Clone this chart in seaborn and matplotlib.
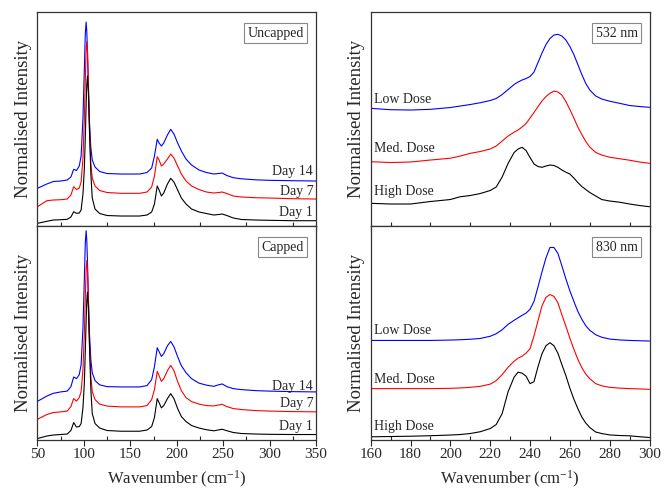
import matplotlib
matplotlib.use('Agg')
import matplotlib.pyplot as plt
import seaborn as sns
from matplotlib.ticker import MultipleLocator

# Raman spectra (arbitrary normalised units)
wn_left = [50, 60, 67, 75, 82, 86, 89, 92, 95, 97, 99, 100.5, 101.5, 102.4, 103.1, 103.8,
           104.8, 106, 107.5, 109, 112, 117, 125, 140, 160, 168, 173, 176, 179, 181, 183.5,
           186, 190, 193.5, 197, 201, 205, 210, 216, 224, 232, 240, 245, 249, 254, 261, 270,
           285, 300, 325, 350]

uncapped_day1 = [2.7, 4.7, 6, 6.3, 6.7, 9, 14.3, 12.7, 13, 16, 32, 58, 88, 121, 141, 150,
                 135, 95, 52, 28, 17, 12.5, 10.5, 10, 10, 11, 14, 22, 40, 36, 30,
                 33, 42, 47.7, 44, 36, 28, 22, 17, 14, 12.5, 11, 11.5, 12, 10.5, 8, 6.5,
                 6, 5.7, 5.3, 5.3]
uncapped_day7 = [19.3, 25.3, 26, 26.3, 27, 31, 39.3, 36.5, 38, 44, 68, 108, 146, 175, 184.3, 176,
                 145, 100, 62, 48, 40, 35.5, 33.5, 32.7, 32.7, 34, 39, 50, 69.3, 66, 60,
                 62, 67, 72, 68, 60, 52, 45, 40, 36.5, 34, 33, 33.5, 34, 32.5, 30, 29,
                 28.3, 28, 27.3, 27]
uncapped_day14 = [37.7, 42, 44.5, 45, 46, 49, 56.7, 55.5, 60, 70, 108, 158, 192, 204, 195, 176,
                  140, 104, 78, 66, 59, 54.5, 52.5, 52, 52, 53.5, 58, 70, 86.7, 83, 80,
                  83, 91, 96.7, 92, 83, 75, 67, 61, 56, 53.5, 52, 52.5, 53, 50.5, 48.3, 47.2,
                  46.2, 45.7, 45.3, 45]

capped_day1 = [1, 3.5, 4.5, 5, 5.5, 9, 17, 12.5, 13, 16, 32, 57, 88, 119, 139, 147.7,
               132, 94, 50, 26, 16, 11.5, 9, 8.3, 8.3, 9.5, 13, 22, 41, 37, 31.7,
               34, 41, 46, 41, 31, 23, 18, 14, 11.5, 9.8, 8.7, 9.6, 10.3, 8.8, 7, 6,
               5.5, 5.2, 5, 5]
capped_day7 = [20.3, 25, 27, 27.7, 28.5, 33, 41, 38.5, 42, 48, 70, 107, 142, 170, 179.3, 171,
               141, 98, 63, 48, 40, 35.5, 33.5, 32.7, 32.7, 34, 40, 50, 68.3, 64, 58.3,
               61, 69, 74.3, 69, 58, 49, 42, 38, 35.5, 34, 33.7, 34.6, 35.3, 33, 31, 30,
               29, 28.5, 28, 27.7]
capped_day14 = [38.3, 43.5, 46.3, 47.7, 48.5, 53, 62.7, 61, 65, 75, 112, 162, 197, 209.3, 200, 180,
                143, 106, 80, 67, 59, 54.8, 53, 52.7, 52.7, 54, 60, 73, 92, 88, 83.3,
                86, 94, 98.3, 93, 83, 74, 67, 61, 56.5, 54.5, 53.3, 54.8, 55.7, 53, 51, 50,
                49, 48.5, 48, 47.7]

wn_right = [160, 170, 180, 190, 200, 205, 210, 215, 220, 223, 226, 229, 232, 234, 236, 238,
            240, 242, 244, 246, 248, 250, 252, 254, 256, 258, 260, 262, 264, 266, 268, 270,
            273, 276, 280, 285, 290, 295, 300]

nm532_low = [117.7, 116.3, 116, 116.7, 118.5, 120, 121.5, 123.3, 125.5, 127.5, 131.5, 136.5,
             141.5, 144, 146, 147.5, 149.5, 154, 163.5, 173, 181.5, 187.5, 191, 191.7, 190,
             186, 179.5, 171.5, 161.5, 151.5, 142.5, 136, 130, 127, 124.8, 122.7, 120.5,
             119.5, 118.7]
nm532_med = [64.3, 63.5, 64, 66, 67.8, 70, 72.7, 74.5, 77, 80, 85, 90, 93.8, 96, 99, 102.5,
             108, 113.5, 119.5, 125, 129.5, 132.7, 135, 134, 131, 124.5, 116.5, 108, 99, 91.5,
             84.5, 79, 73.5, 71, 68.8, 67.3, 65.8, 64, 62.7]
nm532_high = [22.7, 22, 22, 24.5, 26.5, 29.3, 30.5, 32.5, 35.5, 39, 49, 62.7, 73.5, 77, 78.7,
              75.5, 68.5, 62, 59.5, 58.7, 60, 61, 60.5, 58.7, 56, 53.8, 52, 48, 43.5, 39.5,
              36.5, 33.5, 30, 26.5, 25, 23.8, 22, 20.5, 19.3]

nm830_low = [99.3, 99.3, 99.3, 99.3, 99.7, 100, 100.5, 101.3, 103.5, 106, 110, 115.5, 119.5,
             122, 124.5, 126.7, 130.5, 138.5, 153, 168, 182, 192.5, 192.5, 186.5, 174, 161,
             149, 138.5, 128.5, 120.5, 114, 109.5, 105, 102.5, 100.7, 99.8, 99.3, 99, 98.7]
nm830_med = [51, 51, 51, 51, 51.3, 51.7, 52.3, 53.3, 55.5, 59, 65, 72.5, 78.5, 81.5, 83.5,
             86.5, 91, 104, 119, 134, 142.5, 145.3, 143.5, 137, 125, 113.5, 101.5, 90.5, 80.5,
             72, 65.5, 61, 56, 53.8, 52.3, 51.5, 51, 50.7, 50.3]
nm830_high = [2.7, 3, 3.3, 3.8, 4.5, 5, 6, 7.8, 11, 15, 26, 48, 62.5, 67.5, 66.5, 63.5, 56,
              58, 73, 86, 94, 97, 94, 86.5, 75, 64, 51.5, 40.5, 31, 22.5, 16.5, 12, 7.5, 6,
              4.6, 4, 3.7, 2.8, 2]

day_labels = ['Day 14', 'Day 7', 'Day 1']
dose_labels = ['Low Dose', 'Med. Dose', 'High Dose']
colors = ['#0000ff', '#ff0000', '#000000']

sns.set_style('ticks')
plt.rcParams['font.family'] = ['Liberation Serif', 'DejaVu Serif']
plt.rcParams['mathtext.fontset'] = 'custom'
plt.rcParams['mathtext.rm'] = 'Liberation Serif'
plt.rcParams['mathtext.it'] = 'Liberation Serif:italic'

fig = plt.figure(figsize=(6.67, 4.95), dpi=100)
ax_tl = fig.add_axes([0.0562, 0.5434, 0.4175, 0.4323])
ax_bl = fig.add_axes([0.0562, 0.1121, 0.4175, 0.4313])
ax_tr = fig.add_axes([0.5558, 0.5434, 0.418, 0.4323])
ax_br = fig.add_axes([0.5558, 0.1121, 0.418, 0.4313])

panels = [
    (ax_tl, wn_left, [uncapped_day14, uncapped_day7, uncapped_day1], 'Uncapped', day_labels, [54.3, 34.3, 14]),
    (ax_bl, wn_left, [capped_day14, capped_day7, capped_day1], 'Capped', day_labels, [52.8, 36, 13]),
    (ax_tr, wn_right, [nm532_low, nm532_med, nm532_high], '532 nm', dose_labels, [126.7, 77.7, 35]),
    (ax_br, wn_right, [nm830_low, nm830_med, nm830_high], '830 nm', dose_labels, [109.5, 60.5, 13.5]),
]

for ax, wn, curves, title, labels, label_y in panels:
    for ys, c in zip(curves, colors):
        sns.lineplot(x=wn, y=ys, ax=ax, color=c, lw=0.8)
    left = ax in (ax_tl, ax_bl)
    if left:
        ax.set_xlim(50, 350)
        ax.xaxis.set_major_locator(MultipleLocator(50))
        ax.xaxis.set_minor_locator(MultipleLocator(25))
        for t, y in zip(labels, label_y):
            ax.text(0.99, y, t, transform=ax.get_yaxis_transform(), ha='right', va='center', fontsize=10)
    else:
        ax.set_xlim(160, 300)
        ax.xaxis.set_major_locator(MultipleLocator(20))
        ax.xaxis.set_minor_locator(MultipleLocator(10))
        for t, y in zip(labels, label_y):
            ax.text(0.012, y, t, transform=ax.get_yaxis_transform(), ha='left', va='center', fontsize=10)
    ax.set_ylim(0, 214)
    ax.set_yticks([])
    ax.tick_params(axis='x', which='major', direction='out', length=4, width=0.8, labelsize=11, pad=2)
    ax.tick_params(axis='x', which='minor', direction='in', length=3, width=0.8)
    for s in ax.spines.values():
        s.set_visible(True)
        s.set_linewidth(0.9)
        s.set_color('#333333')
    ax.text(0.957, 0.9, title, transform=ax.transAxes, ha='right', va='center', fontsize=10,
            bbox=dict(boxstyle='square,pad=0.25', fc='white', ec='#888888', lw=0.8))
    ax.set_ylabel('Normalised Intensity', fontsize=13.5, labelpad=4)
    if ax in (ax_tl, ax_tr):
        ax.tick_params(axis='x', labelbottom=False)
        ax.set_xlabel('')
    else:
        ax.set_xlabel('Wavenumber (cm$^{-1}$)', fontsize=12, labelpad=6)

plt.savefig('out.png', dpi=100)
